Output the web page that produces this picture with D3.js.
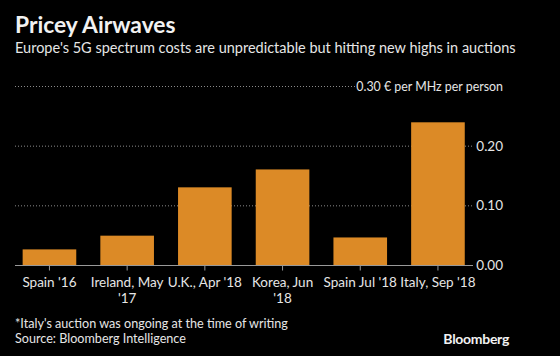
<!DOCTYPE html>
<html><head><meta charset="utf-8">
<script src="https://cdn.jsdelivr.net/npm/d3@7"></script>
<style>
html,body{margin:0;padding:0;background:#000;}
svg{display:block;}
text{font-family:Lato,"Open Sans","DejaVu Sans",sans-serif;}
</style></head>
<body>
<script>
const categories = [["Spain '16"], ["Ireland, May", "'17"], ["U.K., Apr '18"], ["Korea, Jun", "'18"], ["Spain Jul '18"], ["Italy, Sep '18"]];
const values = [0.027, 0.050, 0.131, 0.161, 0.047, 0.240];
const yTicks = [0, 0.10, 0.20, 0.30];
const title = "Pricey Airwaves";
const subtitle = "Europe's 5G spectrum costs are unpredictable but hitting new highs in auctions";
const unitLabel = "0.30 € per MHz per person";
const footnote = "*Italy's auction was ongoing at the time of writing";
const source = "Source: Bloomberg Intelligence";

const W = 560, H = 356;
const svg = d3.select("body").append("svg").attr("width", W).attr("height", H);
svg.append("rect").attr("width", W).attr("height", H).attr("fill", "#000");

const x = d3.scaleBand().domain(d3.range(categories.length)).range([10.6, 476.8]).paddingInner(0.31).paddingOuter(0.155);
const y = d3.scaleLinear().domain([0, 0.30]).range([265.5, 86.5]);
const gridRight = 473;
const textCol = "#e6e6e6";

svg.append("text").attr("x", 15).attr("y", 33).attr("fill", "#f2f2f2").attr("font-size", 22.8)
  .attr("font-family", "'Open Sans', sans-serif").attr("font-weight", "bold").text(title);
svg.append("text").attr("x", 15).attr("y", 53).attr("fill", textCol).attr("font-size", 14.5).text(subtitle);

// gridlines
yTicks.filter(d => d > 0).forEach(t => {
  svg.append("line").attr("x1", 15).attr("x2", t === 0.30 ? 355 : gridRight)
    .attr("y1", y(t)).attr("y2", y(t))
    .attr("stroke", "#8a8a8a").attr("stroke-width", 1).attr("stroke-dasharray", "1,2");
});

// bars
svg.selectAll("rect.bar").data(values).enter().append("rect").attr("class", "bar")
  .attr("x", (d, i) => x(i)).attr("width", x.bandwidth())
  .attr("y", d => y(d)).attr("height", d => y(0) - y(d))
  .attr("fill", "#dc8a26");

// baseline + ticks
const xAxis = d3.axisBottom(x).tickSize(5).tickFormat("");
const gx = svg.append("g").attr("transform", `translate(0,${y(0)})`).call(xAxis);
gx.select(".domain").remove();
gx.selectAll(".tick line").attr("stroke", "#999");
svg.append("line").attr("x1", 15).attr("x2", gridRight).attr("y1", y(0)).attr("y2", y(0)).attr("stroke", "#999").attr("stroke-width", 1);

// category labels
categories.forEach((lines, i) => {
  const t = svg.append("text").attr("x", x(i) + x.bandwidth() / 2).attr("y", 287)
    .attr("text-anchor", "middle").attr("fill", textCol).attr("font-size", 13.5);
  lines.forEach((l, j) => t.append("tspan").attr("x", x(i) + x.bandwidth() / 2).attr("dy", j === 0 ? 0 : 16).text(l));
});

// y labels
yTicks.forEach(t => {
  svg.append("text").attr("x", 503).attr("y", y(t) + 4.5).attr("text-anchor", "end")
    .attr("fill", textCol).attr("font-size", t === 0.30 ? 12.4 : 13.5)
    .text(t === 0.30 ? unitLabel : d3.format(".2f")(t));
});

svg.append("text").attr("x", 15).attr("y", 328).attr("fill", textCol).attr("font-size", 12.6).text(footnote);
svg.append("text").attr("x", 15).attr("y", 343).attr("fill", textCol).attr("font-size", 12.6).text(source);
svg.append("text").attr("x", 509).attr("y", 344).attr("text-anchor", "end").attr("fill", "#f2f2f2")
  .attr("font-size", 14).attr("font-weight", "bold").attr("font-family", "Arial, 'Liberation Sans', sans-serif").attr("letter-spacing", -0.3).text("Bloomberg");
</script>
</body></html>
